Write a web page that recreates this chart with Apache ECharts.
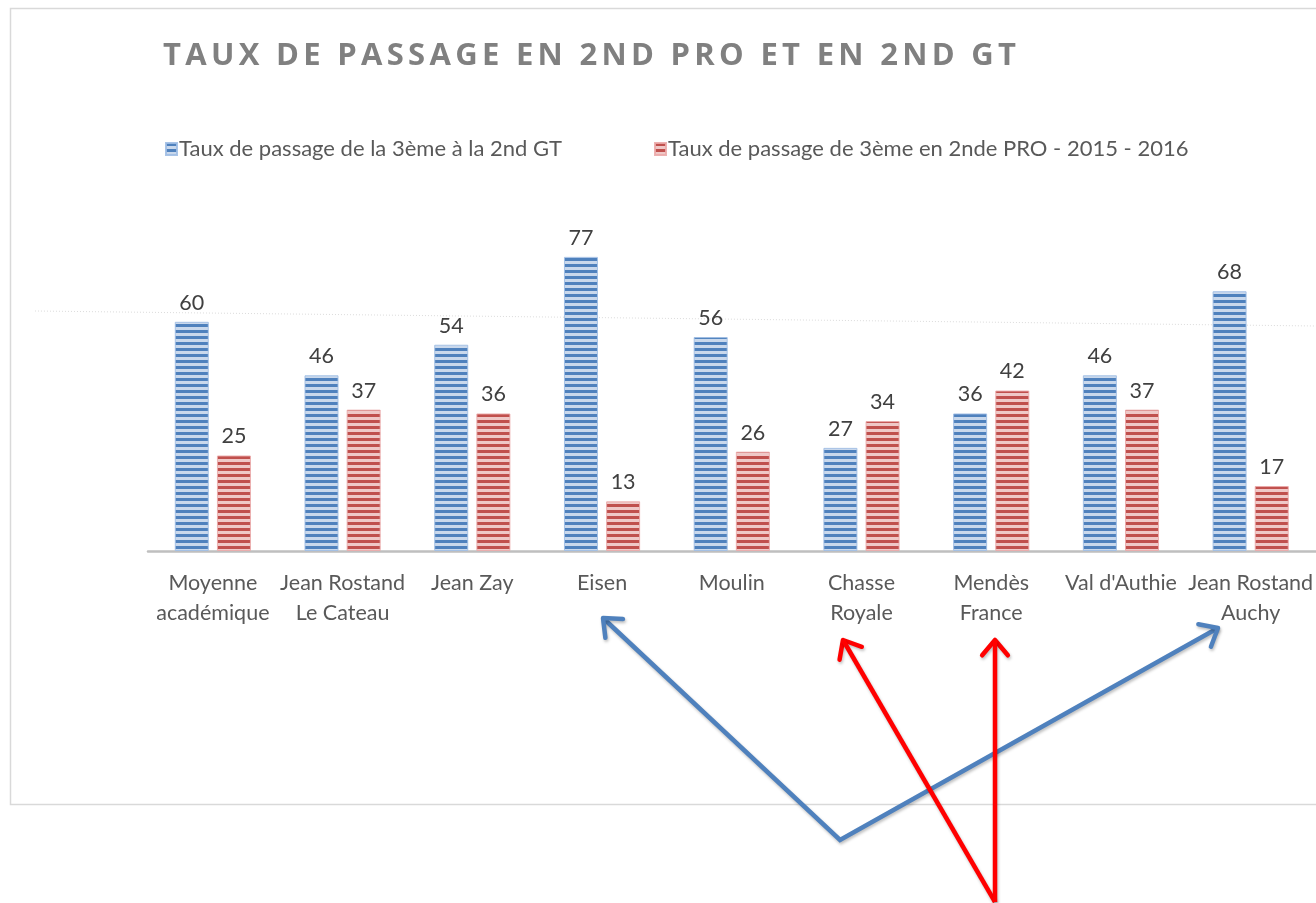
<!DOCTYPE html>
<html>
<head>
<meta charset="utf-8">
<script src="https://cdn.jsdelivr.net/npm/echarts@6/dist/echarts.min.js"></script>
<style>
html,body{margin:0;padding:0;background:#fff;}
#chart{width:1316px;height:903px;}
</style>
</head>
<body>
<div id="chart"></div>
<script>
const categories = ["Moyenne\nacadémique", "Jean Rostand\nLe Cateau", "Jean Zay", "Eisen", "Moulin", "Chasse\nRoyale", "Mendès\nFrance", "Val d'Authie", "Jean Rostand\nAuchy"];
const seriesNames = ["Taux de passage de la 3ème à la 2nd GT", "Taux de passage de 3ème en 2nde PRO - 2015 - 2016"];
const gtValues = [60, 46, 54, 77, 56, 27, 36, 46, 68];
const proValues = [25, 37, 36, 13, 26, 34, 42, 37, 17];
const titleText = "TAUX DE PASSAGE EN 2ND PRO ET EN 2ND GT";

function stripe(dark, light) {
  const c = document.createElement('canvas');
  c.width = 4; c.height = 6;
  const g = c.getContext('2d');
  g.fillStyle = light; g.fillRect(0, 0, 4, 6);
  g.fillStyle = dark; g.fillRect(0, 0, 4, 3);
  return { image: c, repeat: 'repeat' };
}
const bluePat = stripe('#4f81bd', '#c9d8ec');
const redPat = stripe('#c0504d', '#efc8c7');

const FONT = 'Lato, "Open Sans", sans-serif';

// letter-spaced title: each character is its own rich-text fragment with right padding
const spacedTitle = titleText.split('').map(ch => '{s|' + ch + '}').join('');

function arrowHead(tip, from, color, len) {
  const dx = tip[0] - from[0], dy = tip[1] - from[1];
  const d = Math.hypot(dx, dy);
  const ux = dx / d, uy = dy / d;
  const a = Math.PI / 4.5;
  const p1 = [tip[0] - len * (ux * Math.cos(a) - uy * Math.sin(a)), tip[1] - len * (uy * Math.cos(a) + ux * Math.sin(a))];
  const p2 = [tip[0] - len * (ux * Math.cos(a) + uy * Math.sin(a)), tip[1] - len * (uy * Math.cos(a) - ux * Math.sin(a))];
  return {
    type: 'polyline', z: 100,
    shape: { points: [p1, tip, p2] },
    style: { stroke: color, lineWidth: 4.5, fill: null, lineJoin: 'round', lineCap: 'round',
      shadowBlur: 3, shadowColor: 'rgba(0,0,0,0.25)', shadowOffsetX: 1, shadowOffsetY: 2 }
  };
}
const lineStyle = (color) => ({ stroke: color, lineWidth: 4.5, fill: null, lineJoin: 'miter',
  shadowBlur: 3, shadowColor: 'rgba(0,0,0,0.25)', shadowOffsetX: 1, shadowOffsetY: 2 });

const blueMid = [840, 840];
const blueTipA = [603, 618];
const blueTipB = [1218, 628];
const redBase = [995, 902];
const redTipA = [843, 640];
const redTipB = [995, 640];

const chart = echarts.init(document.getElementById('chart'));
chart.setOption({
  backgroundColor: '#fff',
  animation: false,
  title: {
    text: spacedTitle, left: 158, top: 36,
    textStyle: {
      rich: { s: { fontFamily: '"Open Sans", "DejaVu Sans", sans-serif', fontWeight: 'bold', fontSize: 31, color: '#808080', padding: [0, 4.3, 0, 0] } }
    }
  },
  legend: [
    { data: [seriesNames[0]], left: 160, top: 133, itemWidth: 11, itemHeight: 12, icon: 'rect',
      textStyle: { fontFamily: FONT, fontSize: 22, color: '#595959', padding: [0, 0, 0, -3] } },
    { data: [seriesNames[1]], left: 649, top: 133, itemWidth: 11, itemHeight: 12, icon: 'rect',
      textStyle: { fontFamily: FONT, fontSize: 22, color: '#595959', padding: [0, 0, 0, -3] } }
  ],
  grid: { left: 148, right: -2, top: 169, bottom: 352, containLabel: false },
  xAxis: {
    type: 'category', data: categories,
    axisLine: { show: true, lineStyle: { color: '#bfbfbf', width: 2.5 } },
    axisTick: { show: false },
    axisLabel: { interval: 0, margin: 17, lineHeight: 30, fontFamily: FONT, fontSize: 21.5, color: '#595959' }
  },
  yAxis: { type: 'value', min: 0, max: 100, show: false, splitLine: { show: false } },
  series: [
    { name: seriesNames[0], type: 'bar', data: gtValues, barWidth: 34, barGap: '24%',
      itemStyle: { color: bluePat, borderColor: 'rgba(160,190,228,0.9)', borderWidth: 1 },
      label: { show: true, position: 'top', distance: 8, fontFamily: FONT, fontSize: 21.5, color: '#404040' } },
    { name: seriesNames[1], type: 'bar', data: proValues, barWidth: 34,
      itemStyle: { color: redPat, borderColor: 'rgba(235,170,170,0.9)', borderWidth: 1 },
      label: { show: true, position: 'top', distance: 8, fontFamily: FONT, fontSize: 21.5, color: '#404040' } }
  ],
  graphic: [
    { type: 'rect', z: -10, shape: { x: 10.5, y: 8.5, width: 1400, height: 796 },
      style: { fill: null, stroke: '#d9d9d9', lineWidth: 1.5 } },
    { type: 'line', z: -5, shape: { x1: 35, y1: 311, x2: 1316, y2: 326 },
      style: { stroke: '#dcdcdc', lineWidth: 1, lineDash: [1, 2] } },
    { type: 'polyline', z: 100, shape: { points: [blueTipA, blueMid, blueTipB] }, style: lineStyle('#4f81bd') },
    arrowHead(blueTipA, blueMid, '#4f81bd', 20),
    arrowHead(blueTipB, blueMid, '#4f81bd', 20),
    { type: 'line', z: 101, shape: { x1: redBase[0], y1: redBase[1], x2: redTipA[0], y2: redTipA[1] }, style: lineStyle('#ff0000') },
    { type: 'line', z: 101, shape: { x1: redBase[0], y1: redBase[1], x2: redTipB[0], y2: redTipB[1] }, style: lineStyle('#ff0000') },
    arrowHead(redTipA, redBase, '#ff0000', 20),
    arrowHead(redTipB, redBase, '#ff0000', 20)
  ]
});
</script>
</body>
</html>
